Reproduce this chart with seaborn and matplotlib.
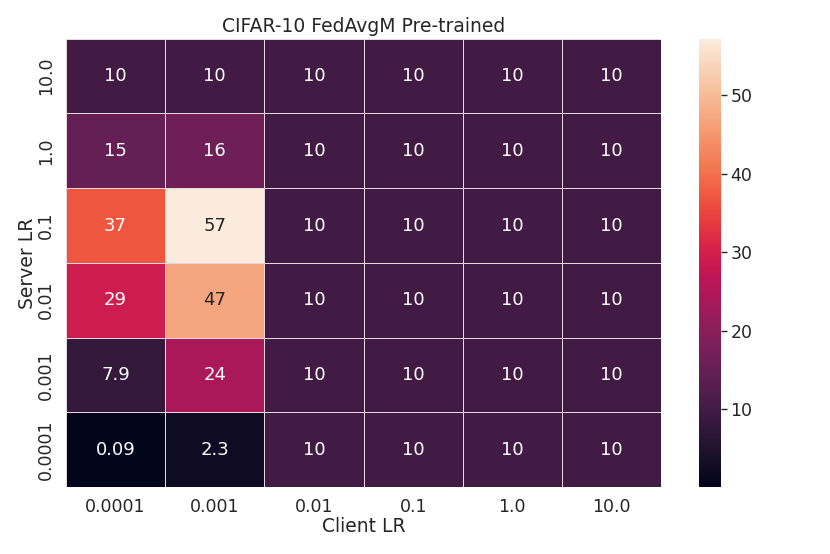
"""Heatmap of accuracy over client / server learning rates."""

import matplotlib
matplotlib.use("Agg")
import matplotlib.pyplot as plt
import numpy as np
import pandas as pd
import seaborn as sns

sns.set_theme(style="white")
plt.rcParams["font.family"] = ["DejaVu Sans"]

client_lr = ["0.0001", "0.001", "0.01", "0.1", "1.0", "10.0"]
server_lr = ["10.0", "1.0", "0.1", "0.01", "0.001", "0.0001"]

row_10 = [10, 10, 10, 10, 10, 10]
row_1 = [15, 16, 10, 10, 10, 10]
row_01 = [37, 57.2, 10, 10, 10, 10]
row_001 = [29, 47, 10, 10, 10, 10]
row_0001 = [7.9, 24, 10, 10, 10, 10]
row_00001 = [0.09, 2.3, 10, 10, 10, 10]

acc = pd.DataFrame(
    np.array([row_10, row_1, row_01, row_001, row_0001, row_00001]),
    index=server_lr,
    columns=client_lr,
)

fig = plt.figure(figsize=(8.3, 5.54), dpi=100)
ax = fig.add_axes([0.0795, 0.121, 0.717, 0.809])
cax = fig.add_axes([0.842, 0.121, 0.0265, 0.809])

sns.heatmap(
    acc,
    annot=True,
    annot_kws={"fontsize": 13},
    linewidths=0.5,
    linecolor="#e6d6e0",
    ax=ax,
    cbar_ax=cax,
)

ax.set_title("CIFAR-10 FedAvgM Pre-trained", fontsize=13.5, color="#262626", pad=5)
ax.set_xlabel("Client LR", fontsize=13.5, color="#262626", labelpad=1)
ax.set_ylabel("Server LR", fontsize=13.5, color="#262626", labelpad=0)
ax.tick_params(axis="both", length=0, labelsize=12.5, colors="#262626", pad=8)
plt.setp(ax.get_yticklabels(), rotation=90, va="center")
plt.setp(ax.get_xticklabels(), rotation=0)

cax.tick_params(length=4, width=1, labelsize=12.5, colors="#262626", pad=3)
cax.yaxis.set_ticks([10, 20, 30, 40, 50])
for s in cax.spines.values():
    s.set_visible(False)

fig.savefig("out.png", dpi=100)
